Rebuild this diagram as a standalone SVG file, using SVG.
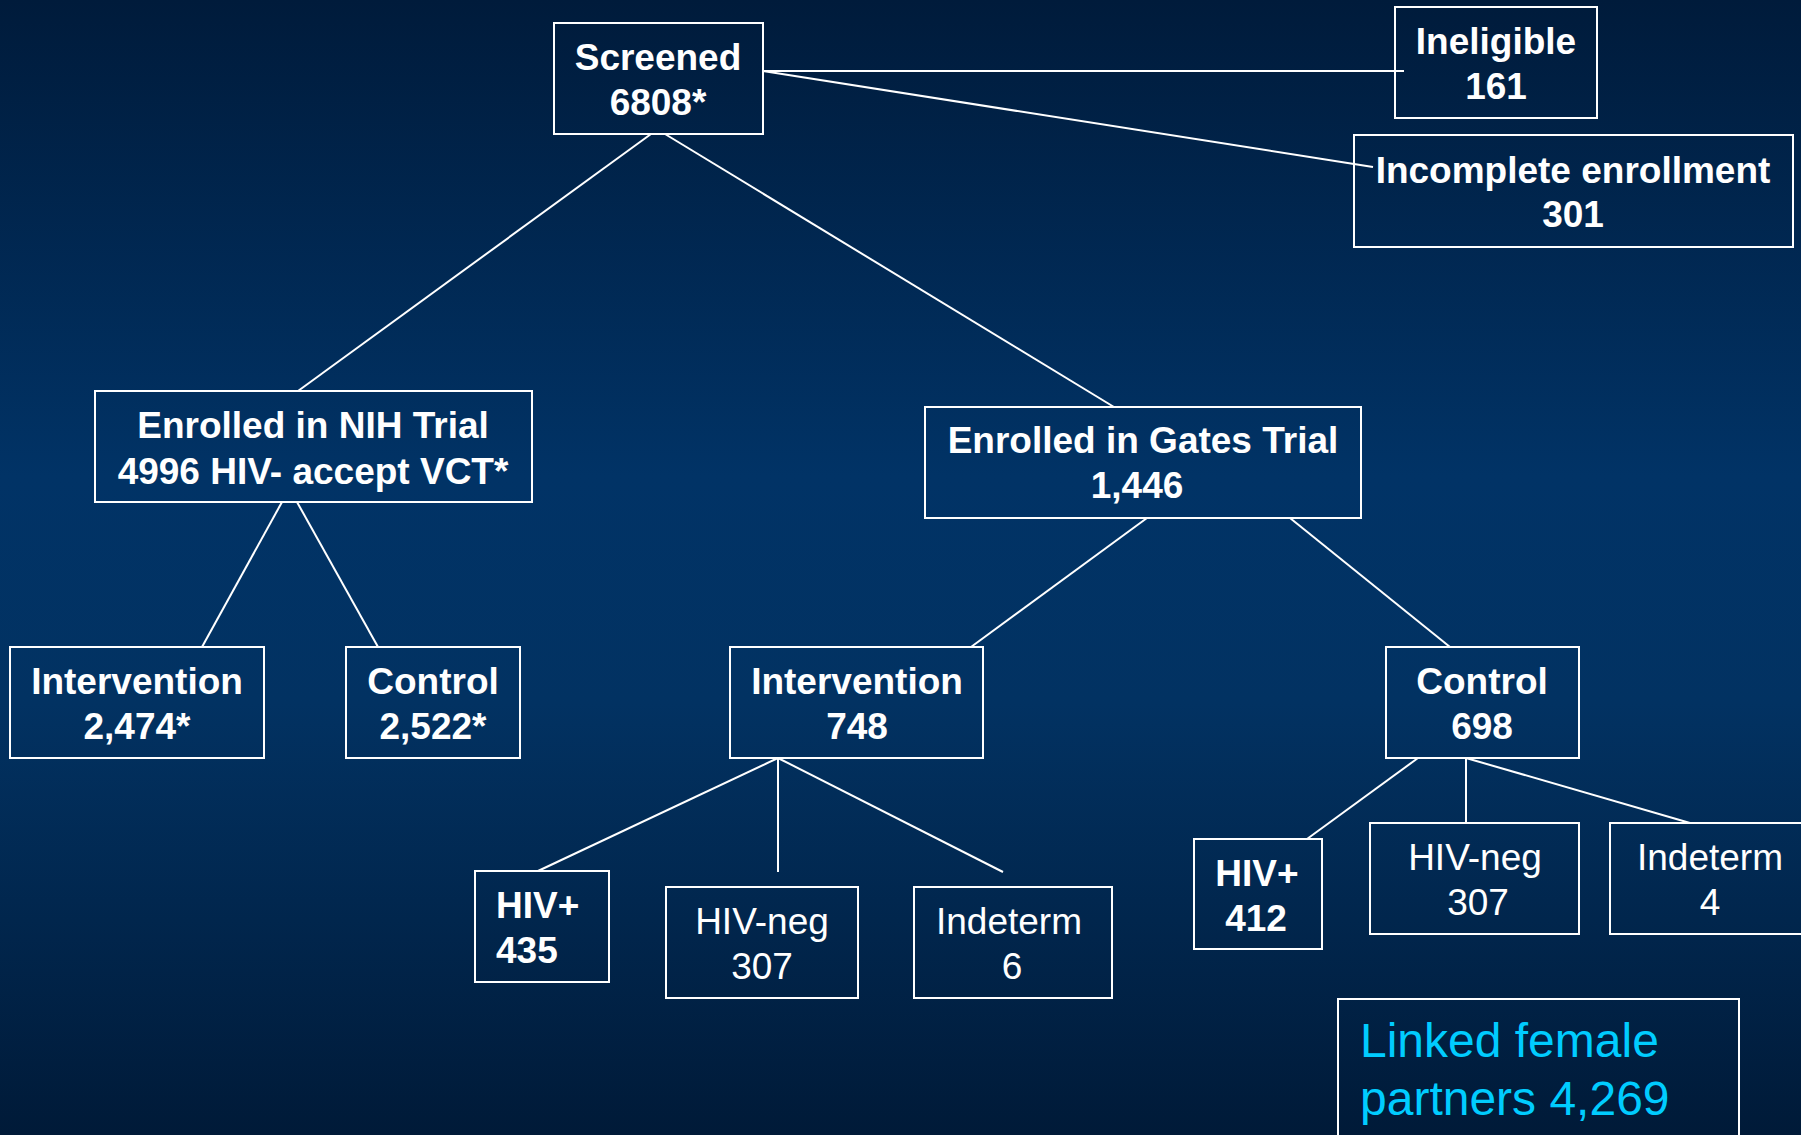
<svg xmlns="http://www.w3.org/2000/svg" width="1801" height="1135" viewBox="0 0 1801 1135">
<defs>
<linearGradient id="bg" x1="0" y1="0" x2="0" y2="1">
<stop offset="0" stop-color="#001b3b"/>
<stop offset="0.42" stop-color="#013366"/>
<stop offset="0.62" stop-color="#023262"/>
<stop offset="1" stop-color="#001a38"/>
</linearGradient>
<style>
.box{fill:none;stroke:#ffffff;stroke-width:2}
.ln{stroke:#ffffff;stroke-width:2;fill:none}
.b{font-family:"Liberation Sans",Arial,sans-serif;font-weight:bold;font-size:37px;fill:#ffffff;text-anchor:middle}
.r{font-family:"Liberation Sans",Arial,sans-serif;font-size:37px;fill:#ffffff;text-anchor:middle}
.c{font-family:"Liberation Sans",Arial,sans-serif;font-size:48px;fill:#00ccff}
</style>
</defs>
<rect x="0" y="0" width="1801" height="1135" fill="url(#bg)"/>
<g id="connectors">
<line class="ln" x1="763" y1="71" x2="1404" y2="71"/>
<line class="ln" x1="763" y1="71" x2="1373" y2="167"/>
<line class="ln" x1="651" y1="134" x2="298" y2="391"/>
<line class="ln" x1="665" y1="134" x2="1114" y2="407"/>
<line class="ln" x1="282" y1="502" x2="202" y2="647"/>
<line class="ln" x1="297" y1="502" x2="378" y2="647"/>
<line class="ln" x1="1147" y1="518" x2="971" y2="647"/>
<line class="ln" x1="1290" y1="518" x2="1450" y2="647"/>
<line class="ln" x1="778" y1="758" x2="538" y2="871"/>
<line class="ln" x1="778" y1="758" x2="778" y2="872"/>
<line class="ln" x1="778" y1="758" x2="1003" y2="872"/>
<line class="ln" x1="1418" y1="758" x2="1307" y2="839"/>
<line class="ln" x1="1466" y1="758" x2="1466" y2="823"/>
<line class="ln" x1="1466" y1="758" x2="1690" y2="823"/>
</g>
<g id="screened">
<rect class="box" x="554" y="23" width="209" height="111"/>
<text class="b" x="658" y="70">Screened</text>
<text class="b" x="658" y="115">6808*</text>
</g>
<g id="ineligible">
<rect class="box" x="1395" y="7" width="202" height="111"/>
<text class="b" x="1496" y="54">Ineligible</text>
<text class="b" x="1496" y="99">161</text>
</g>
<g id="incomplete">
<rect class="box" x="1354" y="135" width="439" height="112"/>
<text class="b" x="1573" y="183">Incomplete enrollment</text>
<text class="b" x="1573" y="227">301</text>
</g>
<g id="nih">
<rect class="box" x="95" y="391" width="437" height="111"/>
<text class="b" x="313" y="438">Enrolled in NIH Trial</text>
<text class="b" x="313" y="484">4996 HIV- accept VCT*</text>
</g>
<g id="gates">
<rect class="box" x="925" y="407" width="436" height="111"/>
<text class="b" x="1143" y="453">Enrolled in Gates Trial</text>
<text class="b" x="1137" y="498">1,446</text>
</g>
<g id="nih-intervention">
<rect class="box" x="10" y="647" width="254" height="111"/>
<text class="b" x="137" y="694">Intervention</text>
<text class="b" x="137" y="739">2,474*</text>
</g>
<g id="nih-control">
<rect class="box" x="346" y="647" width="174" height="111"/>
<text class="b" x="433" y="694">Control</text>
<text class="b" x="433" y="739">2,522*</text>
</g>
<g id="gates-intervention">
<rect class="box" x="730" y="647" width="253" height="111"/>
<text class="b" x="857" y="694">Intervention</text>
<text class="b" x="857" y="739">748</text>
</g>
<g id="gates-control">
<rect class="box" x="1386" y="647" width="193" height="111"/>
<text class="b" x="1482" y="694">Control</text>
<text class="b" x="1482" y="739">698</text>
</g>
<g id="int-hivpos">
<rect class="box" x="475" y="871" width="134" height="111"/>
<text class="b" x="496" y="918" style="text-anchor:start">HIV+</text>
<text class="b" x="496" y="963" style="text-anchor:start">435</text>
</g>
<g id="int-hivneg">
<rect class="box" x="666" y="887" width="192" height="111"/>
<text class="r" x="762" y="934">HIV-neg</text>
<text class="r" x="762" y="979">307</text>
</g>
<g id="int-indeterm">
<rect class="box" x="914" y="887" width="198" height="111"/>
<text class="r" x="1009" y="934">Indeterm</text>
<text class="r" x="1012" y="979">6</text>
</g>
<g id="ctl-hivpos">
<rect class="box" x="1194" y="839" width="128" height="110"/>
<text class="b" x="1257" y="886">HIV+</text>
<text class="b" x="1256" y="931">412</text>
</g>
<g id="ctl-hivneg">
<rect class="box" x="1370" y="823" width="209" height="111"/>
<text class="r" x="1475" y="870">HIV-neg</text>
<text class="r" x="1478" y="915">307</text>
</g>
<g id="ctl-indeterm">
<rect class="box" x="1610" y="823" width="200" height="111"/>
<text class="r" x="1710" y="870">Indeterm</text>
<text class="r" x="1710" y="915">4</text>
</g>
<g id="linked">
<rect class="box" x="1338" y="999" width="401" height="150"/>
<text class="c" x="1360" y="1057">Linked female</text>
<text class="c" x="1360" y="1115">partners 4,269</text>
</g>
</svg>
